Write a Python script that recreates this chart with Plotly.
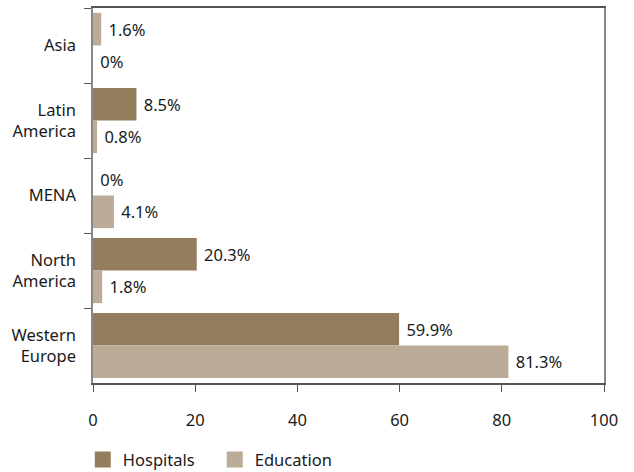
import plotly.graph_objects as go

regions = ["Asia", "Latin<br>America", "MENA", "North<br>America", "Western<br>Europe"]
hospitals = [1.6, 8.5, 0, 20.3, 59.9]
education = [0, 0.8, 4.1, 1.8, 81.3]
x_ticks = [0, 20, 40, 60, 80, 100]

c_hosp = "rgb(148,125,93)"
c_edu = "rgb(188,171,150)"
hosp_colors = [c_edu, c_hosp, c_hosp, c_hosp, c_hosp]

font = "Noto Sans"
txt = "#1a1a1a"
fs = 16.5

fig = go.Figure()
fig.add_trace(go.Bar(
    y=regions, x=hospitals, orientation="h", name="Hospitals", showlegend=False,
    marker=dict(color=hosp_colors, line=dict(width=0)), offsetgroup="h",
    text=[f"\u00a0{v:g}%" for v in hospitals], textposition="outside",
    textfont=dict(family=font, size=fs, color=txt), cliponaxis=False,
))
fig.add_trace(go.Bar(
    y=regions, x=education, orientation="h", name="Education", showlegend=False,
    marker=dict(color=c_edu, line=dict(width=0)), offsetgroup="e",
    text=[f"\u00a0{v:g}%" for v in education], textposition="outside",
    textfont=dict(family=font, size=fs, color=txt), cliponaxis=False,
))
# legend entries
for nm, col in [("Hospitals", c_hosp), ("Education", c_edu)]:
    fig.add_trace(go.Scatter(x=[None], y=[None], mode="markers", name=nm,
                             marker=dict(symbol="square", size=20, color=col,
                                         line=dict(width=0))))

fig.update_layout(
    width=634, height=472,
    margin=dict(l=93, r=30, t=8, b=89, autoexpand=False),
    paper_bgcolor="white", plot_bgcolor="white",
    barmode="group", bargap=0.13, bargroupgap=0,
    font=dict(family=font, size=fs, color=txt),
    showlegend=True,
    legend=dict(orientation="h", x=-0.02, xanchor="left",
                yref="container", y=0.026, yanchor="middle",
                font=dict(family=font, size=fs, color=txt), traceorder="normal",
                itemwidth=30, entrywidthmode="pixels", entrywidth=87),
    xaxis=dict(range=[0, 100], tickvals=x_ticks, showgrid=False, zeroline=False,
               showline=True, linecolor="#555", linewidth=1.5, mirror=True,
               ticks="outside", ticklen=7, tickcolor="#555", tickwidth=1, automargin=False,
               ticklabelstandoff=14, tickfont=dict(family=font, size=fs, color=txt)),
    yaxis=dict(autorange="reversed", showgrid=False, zeroline=False,
               showline=True, linecolor="#888", linewidth=1.5, mirror=True, automargin=False,
               ticks="outside", ticklen=7, tickcolor="#555", tickson="boundaries",
               ticklabelstandoff=12, tickfont=dict(family=font, size=fs, color=txt)),
)

fig.write_html("out.html")
